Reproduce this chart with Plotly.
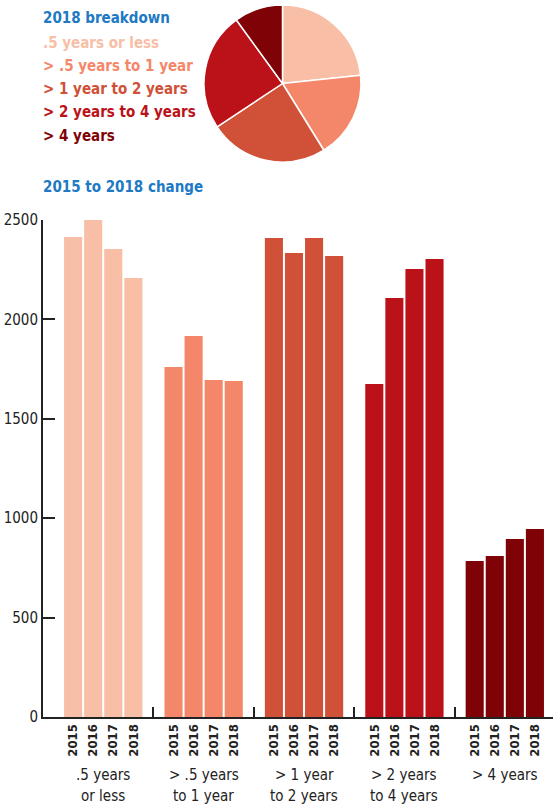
import plotly.graph_objects as go

categories = [".5 years or less", "> .5 years to 1 year", "> 1 year to 2 years",
              "> 2 years to 4 years", "> 4 years"]
cat_axis_lines = [[".5 years", "or less"], ["> .5 years", "to 1 year"], ["> 1 year", "to 2 years"],
                  ["> 2 years", "to 4 years"], ["> 4 years"]]
years = ["2015", "2016", "2017", "2018"]
values = [
    [2414, 2500, 2354, 2208],
    [1760, 1916, 1695, 1690],
    [2410, 2334, 2410, 2319],
    [1675, 2108, 2254, 2304],
    [785, 810, 895, 946],
]
colors = ["#f8bea6", "#f4876a", "#d05038", "#bb1219", "#7f0306"]
y_ticks = [0, 500, 1000, 1500, 2000, 2500]
blue = "#2079c4"
FONT = "DejaVu Sans Condensed, Liberation Sans Narrow, Roboto, sans-serif"


def esc(s):
    return s.replace(">", "&gt;")


W, H = 553, 804
SLOT = 5  # 4 bars + one gap slot per group

fig = go.Figure()

tickvals, ticktext = [], []
for g, (cat, vals, col) in enumerate(zip(categories, values, colors)):
    xs = [g * SLOT + j for j in range(len(years))]
    tickvals += xs
    ticktext += ["<b>" + y + "</b>" for y in years]
    fig.add_trace(go.Bar(x=xs, y=vals, marker=dict(color=col, line=dict(width=0)),
                         name=cat, showlegend=False, xaxis="x", yaxis="y"))

# 2018 breakdown pie
pie_vals = [v[-1] for v in values]
fig.add_trace(go.Pie(values=pie_vals, labels=categories, sort=False, direction="clockwise",
                     rotation=0, marker=dict(colors=colors, line=dict(color="white", width=1.5)),
                     textinfo="none", showlegend=False,
                     domain=dict(x=[204 / W, 361 / W], y=[(H - 162) / H, (H - 5) / H])))

boundaries = [g * SLOT + 4 for g in range(len(categories))]
fig.add_trace(go.Scatter(x=[boundaries[0]], y=[0], mode="markers", marker=dict(opacity=0),
                         xaxis="x2", yaxis="y", showlegend=False, hoverinfo="skip"))

x0, x1 = -1.5, 23.9
ydom = [(H - 717) / H, (H - 220) / H]
xdom = [43 / W, 1.0]
fig.update_layout(
    width=W, height=H, margin=dict(l=0, r=0, t=0, b=0),
    paper_bgcolor="white", plot_bgcolor="white",
    bargap=0.1,
    font=dict(family=FONT, color="#222"),
    xaxis=dict(domain=xdom, range=[x0, x1], tickvals=tickvals, ticktext=ticktext,
               tickangle=-90, ticks="", showgrid=False, zeroline=False,
               showline=True, linecolor="#222", linewidth=2,
               tickfont=dict(size=13, family=FONT, color="#222"), automargin=False),
    xaxis2=dict(domain=xdom, range=[x0, x1], overlaying="x", anchor="y", side="bottom",
                tickvals=boundaries, ticks="inside", ticklen=10, tickwidth=2, tickcolor="#222",
                showticklabels=False, showgrid=False, zeroline=False, showline=False),
    yaxis=dict(domain=ydom, range=[0, 2500], tickvals=y_ticks, ticks="inside", ticklen=12,
               tickwidth=2, tickcolor="#222", showline=True, linecolor="#222", linewidth=2,
               showgrid=False, zeroline=False, anchor="x",
               tickfont=dict(size=15, family=FONT, color="#222"), automargin=False),
)

ann = [dict(text="<b>2018 breakdown</b>", color=blue, y=18)]
legend_y = [43, 66, 89, 112, 136]
for cat, col, yy in zip(categories, colors, legend_y):
    ann.append(dict(text="<b>" + esc(cat) + "</b>", color=col, y=yy))
ann.append(dict(text="<b>2015 to 2018 change</b>", color=blue, y=187))
for a in ann:
    fig.add_annotation(text=a["text"], x=41 / W, y=(H - a["y"]) / H, xref="paper", yref="paper",
                       xanchor="left", yanchor="middle", showarrow=False,
                       font=dict(size=15, family=FONT, color=a["color"]))

line_y = [775, 796]
for g, lines in enumerate(cat_axis_lines):
    for ln, yy in zip(lines, line_y):
        fig.add_annotation(text=esc(ln), x=g * SLOT + 1.5, xref="x",
                           y=(H - yy) / H, yref="paper", xanchor="center", yanchor="middle",
                           showarrow=False, font=dict(size=15, family=FONT, color="#222"))

fig.write_html("out.html")
